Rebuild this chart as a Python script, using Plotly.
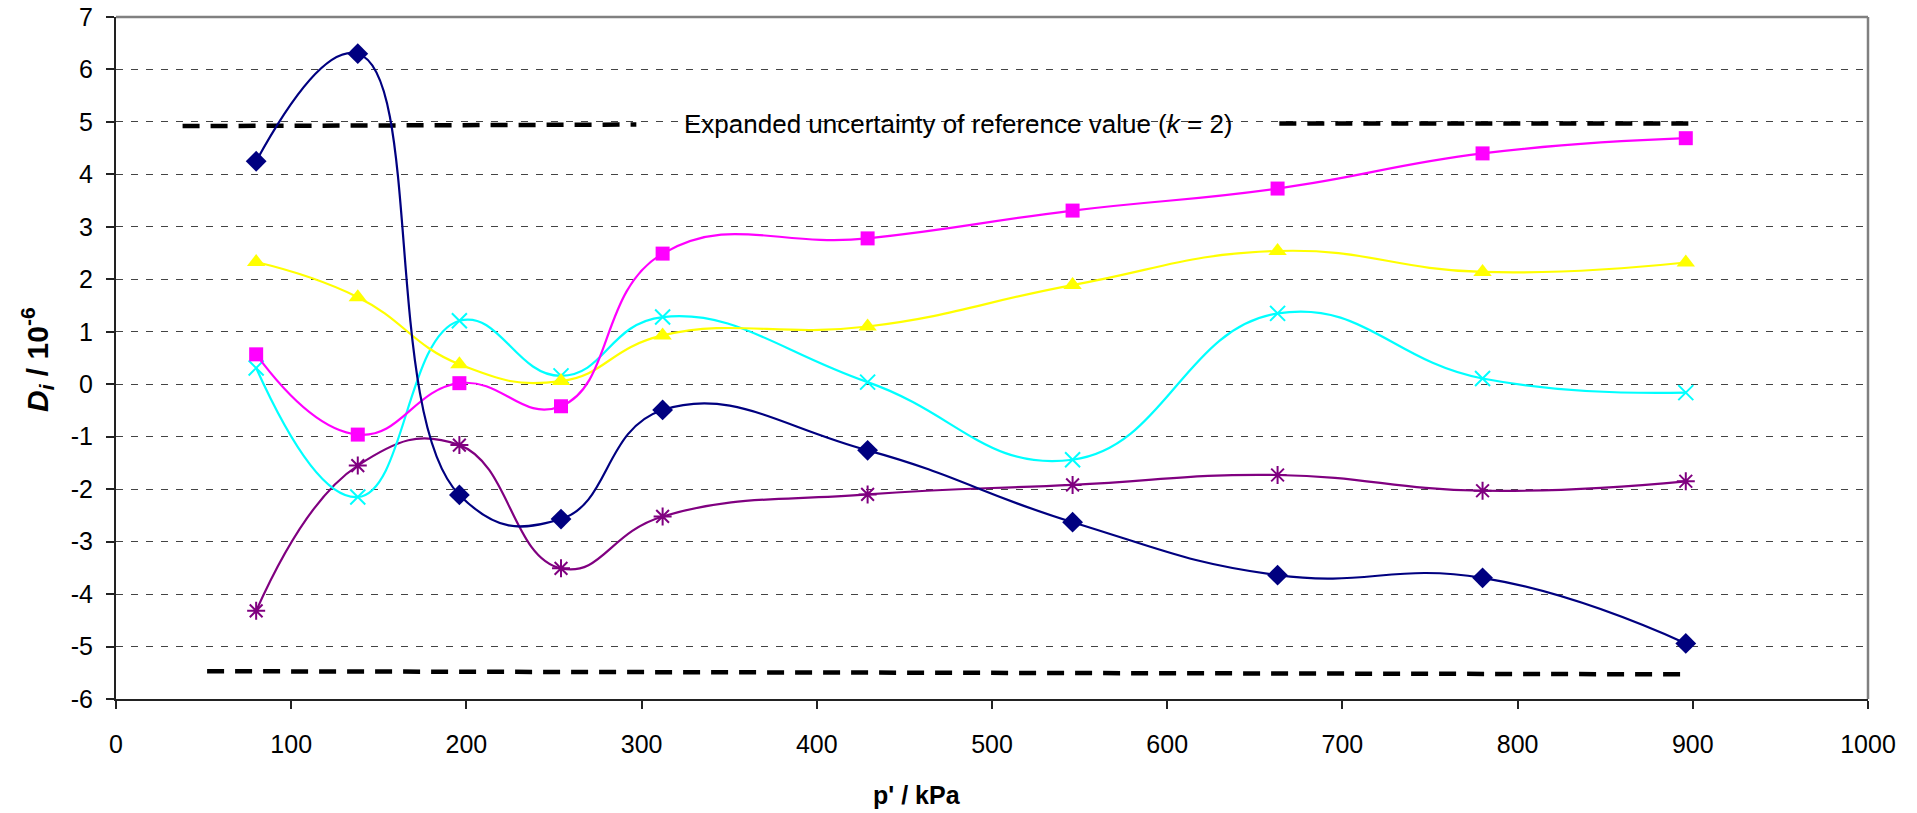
import plotly.graph_objects as go

# ---- data ----
pressure_kpa = [80, 138, 196, 254, 312, 429, 546, 663, 780, 896]

lab_navy = [4.25, 6.30, -2.11, -2.57, -0.49, -1.26, -2.63, -3.64, -3.69, -4.94]
lab_magenta = [0.57, -0.96, 0.02, -0.42, 2.49, 2.78, 3.31, 3.73, 4.40, 4.69]
lab_yellow = [2.33, 1.66, 0.38, 0.06, 0.93, 1.10, 1.89, 2.54, 2.14, 2.32]
lab_cyan = [0.31, -2.15, 1.21, 0.16, 1.28, 0.04, -1.44, 1.35, 0.11, -0.16]
lab_purple = [-4.32, -1.55, -1.16, -3.51, -2.52, -2.10, -1.92, -1.73, -2.03, -1.85]

unc_upper_left_x = [38, 297]
unc_upper_left_y = [4.92, 4.95]
unc_upper_right_x = [664, 900]
unc_upper_right_y = [4.97, 4.97]
unc_lower_x = [52, 899]
unc_lower_y = [-5.47, -5.53]

y_tick_vals = [-6, -5, -4, -3, -2, -1, 0, 1, 2, 3, 4, 5, 6, 7]
y_tick_text = ["-6", "-5", "-4", "-3", "-2", "-1", "0", "1", "2", "3", "4", "5", "6", "7"]
x_tick_vals = [0, 100, 200, 300, 400, 500, 600, 700, 800, 900, 1000]
x_tick_text = ["0", "100", "200", "300", "400", "500", "600", "700", "800", "900", "1000"]

annotation_text = "Expanded uncertainty of reference value (<i>k</i> = 2)"
x_title = "<b>p' / kPa</b>"
y_title = "<b><i>D<sub>i</sub></i> / 10<sup>-6</sup></b>"

FONT = "Liberation Sans, Arial, sans-serif"

fig = go.Figure()

# uncertainty lines
for xs, ys in [(unc_upper_left_x, unc_upper_left_y),
               (unc_upper_right_x, unc_upper_right_y),
               (unc_lower_x, unc_lower_y)]:
    fig.add_trace(go.Scatter(
        x=xs, y=ys, mode="lines",
        line=dict(color="black", width=4.5, dash="17px,11px"),
        hoverinfo="skip", showlegend=False))

series = [
    (lab_purple, "#800080", "asterisk-open", 15, 2),
    (lab_cyan, "#00FFFF", "x-thin-open", 15, 2),
    (lab_yellow, "#FFFF00", "triangle-up", 16, 0),
    (lab_magenta, "#FF00FF", "square", 14, 0),
    (lab_navy, "#000080", "diamond", 16, 0),
]
for vals, color, sym, size, lw in series:
    marker = dict(symbol=sym, size=size, color=color)
    if lw:
        marker["line"] = dict(color=color, width=lw)
    else:
        marker["line"] = dict(width=0)
    fig.add_trace(go.Scatter(
        x=pressure_kpa, y=vals, mode="lines+markers",
        line=dict(color=color, width=2.2, shape="spline", smoothing=1.3),
        marker=marker, showlegend=False))

fig.add_annotation(
    x=481, y=4.97, xref="x", yref="y", text=annotation_text,
    showarrow=False, font=dict(family=FONT, size=26, color="black"),
    xanchor="center", yanchor="middle")

W, H = 1917, 813
# plot area in page pixels: x 116..1868, y 17..699
L = 116
R = W - 1868
T = 17
B = H - 699

def px_to_paper(px, py):
    fx = (px - L) / (W - L - R)
    fy = (H - B - py) / (H - T - B)
    return fx, fy

# axis titles (positions given in page pixels)
xt = px_to_paper(917, 795)
fig.add_annotation(
    x=xt[0], y=xt[1], xref="paper", yref="paper", text=x_title, showarrow=False,
    font=dict(family=FONT, size=25, color="black"),
    xanchor="center", yanchor="middle")
yt = px_to_paper(37, 360)
fig.add_annotation(
    x=yt[0], y=yt[1], xref="paper", yref="paper", text=y_title, showarrow=False,
    textangle=-90, font=dict(family=FONT, size=30, color="black"),
    xanchor="center", yanchor="middle")

# plot area border (top / right) in grey
fig.add_shape(type="line", xref="paper", yref="paper", x0=0, x1=1, y0=1, y1=1,
              line=dict(color="#808080", width=2.5))
fig.add_shape(type="line", xref="paper", yref="paper", x0=1, x1=1, y0=0, y1=1,
              line=dict(color="#808080", width=2.5))

fig.update_layout(
    width=W, height=H,
    margin=dict(l=L, r=R, t=T, b=B, autoexpand=False),
    paper_bgcolor="white", plot_bgcolor="white",
    font=dict(family=FONT, size=25, color="black"),
    showlegend=False,
    xaxis=dict(
        range=[0, 1000], tickvals=x_tick_vals, ticktext=x_tick_text,
        showgrid=False, zeroline=False, automargin=False,
        showline=True, linecolor="#222222", linewidth=2,
        ticks="outside", ticklen=8, tickwidth=1.5, tickcolor="#222222",
        ticklabelstandoff=14,
    ),
    yaxis=dict(
        range=[-6, 7], tickvals=y_tick_vals, ticktext=y_tick_text,
        showgrid=True, gridcolor="#444444", gridwidth=1, griddash="7px,8px",
        zeroline=False, automargin=False,
        showline=True, linecolor="#222222", linewidth=2,
        ticks="outside", ticklen=8, tickwidth=1.5, tickcolor="#222222",
        ticklabelstandoff=8,
    ),
)

fig.write_html("out.html", config={"displayModeBar": False},
               post_script="document.body.style.margin='0px';")
